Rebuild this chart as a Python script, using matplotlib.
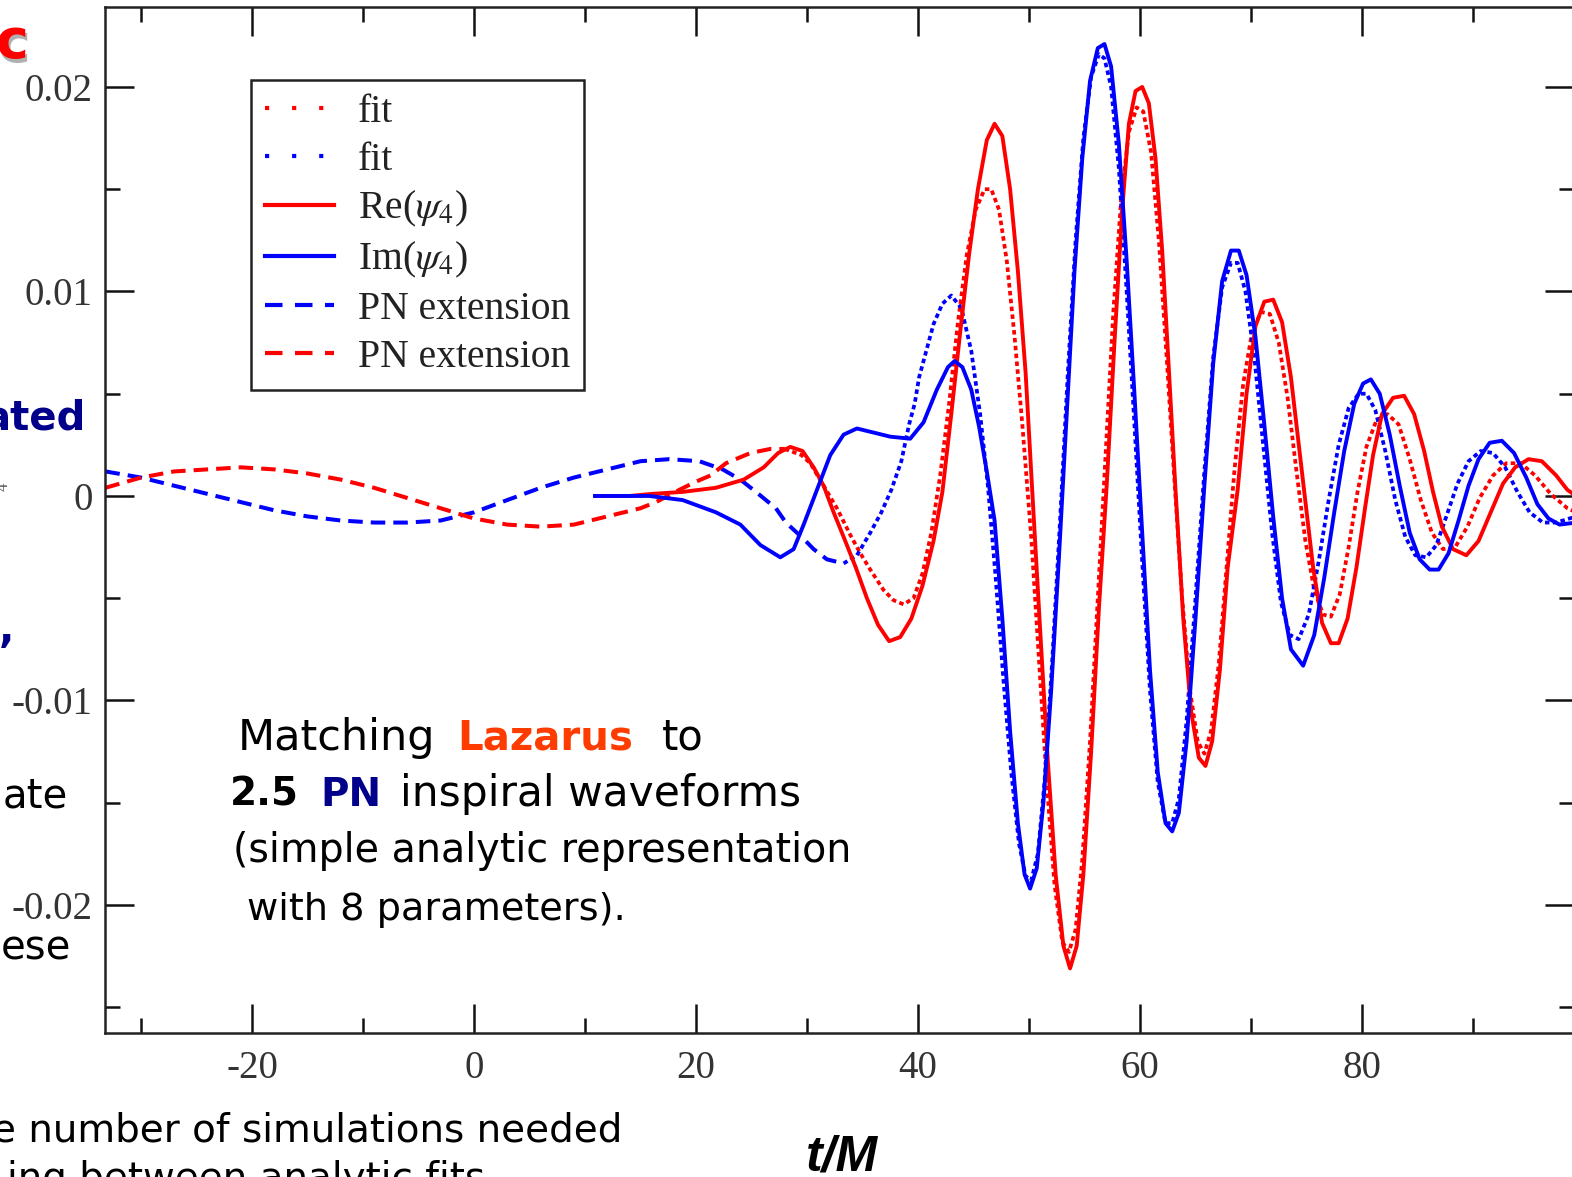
import matplotlib
matplotlib.use('Agg')
import matplotlib.pyplot as plt
from matplotlib.lines import Line2D

plt.rcParams['mathtext.fontset'] = 'stix'
plt.rcParams['axes.unicode_minus'] = False

# ---- data (t/M, psi4) ----
pn_blue_t = [-33.2, -30, -27, -24, -21, -18, -15, -12, -9, -6, -3, 0, 3, 6, 9, 12, 15, 17.6,
             20.3, 22.4, 24.0, 25.4, 27.2, 28.1, 29.7, 30.6, 31.8, 33.3]
pn_blue_y = [0.0012, 0.0009, 0.0005, 0.0001, -0.0003, -0.0007, -0.0010, -0.0012, -0.0013, -0.0013,
             -0.0012, -0.0008, -0.0002, 0.0004, 0.0009, 0.0013, 0.0017, 0.0018,
             0.0017, 0.0013, 0.0008, 0.0002, -0.0006, -0.0013, -0.0021, -0.0026, -0.0031, -0.0033]

pn_red_t = [-33.2, -30, -27, -24, -21, -18, -15, -12, -9, -6, -3, 0, 3, 6, 9, 12, 15, 16.4,
            18.5, 20.0, 21.3, 22.7, 24.9, 26.7, 28.0]
pn_red_y = [0.0004, 0.0009, 0.0012, 0.0013, 0.0014, 0.0013, 0.0011, 0.0008, 0.0004, -0.0001,
            -0.0006, -0.0011, -0.0014, -0.0015, -0.0014, -0.0010, -0.0006, -0.0003,
            0.0003, 0.0007, 0.0010, 0.0016, 0.0021, 0.0023, 0.0023]

re_t = [11, 14, 16, 18.8, 21.8, 24.3, 26.1, 27.4, 28.5, 29.6, 30.6, 31.5, 32.4, 33.3, 34.4, 35.4,
        36.4, 37.4, 38.4, 39.4, 40.4, 41.4, 42.2, 43.0, 43.8, 44.6, 45.4, 46.2, 46.9, 47.6, 48.3,
        49.0, 49.7, 50.3, 51.0, 51.7, 52.4, 53.1, 53.7, 54.3, 54.9, 55.6, 56.3, 57.0, 57.7, 58.4,
        59.0, 59.6, 60.2, 60.8, 61.4, 62.0, 62.6, 63.2, 63.9, 64.6, 65.3, 65.9, 66.5, 67.2, 67.9,
        68.8, 69.6, 70.4, 71.2, 72.0, 72.8, 73.6, 74.2, 74.8, 75.6, 76.4, 77.2, 77.9, 78.7, 79.5,
        80.3, 81.0, 81.8, 82.8, 83.8, 84.7, 85.6, 86.4, 87.2, 88.2, 89.4, 90.5, 91.6, 92.7, 93.8,
        95.0, 96.2, 97.5, 98.5, 99.3]
re_y = [0.0, 0.0, 0.0001, 0.0002, 0.0004, 0.0008, 0.0014, 0.0021, 0.0024, 0.0022, 0.0014, 0.0005,
        -0.0008, -0.0020, -0.0035, -0.0050, -0.0063, -0.0071, -0.0069, -0.0060, -0.0044, -0.0022,
        0.0002, 0.0040, 0.0080, 0.0118, 0.0150, 0.0174, 0.0182, 0.0176, 0.0150, 0.0110, 0.0060,
        0.0002, -0.0065, -0.0130, -0.0185, -0.0220, -0.0231, -0.0220, -0.0185, -0.0125, -0.0055,
        0.0005, 0.0075, 0.0140, 0.0182, 0.0198, 0.0200, 0.0192, 0.0165, 0.0120, 0.0062, 0.0003,
        -0.0060, -0.0105, -0.0128, -0.0132, -0.0120, -0.0085, -0.0035, 0.0003, 0.0050, 0.0083,
        0.0095, 0.0096, 0.0085, 0.0058, 0.0030, 0.0002, -0.0035, -0.0062, -0.0072, -0.0072,
        -0.0060, -0.0035, -0.0005, 0.0020, 0.0040, 0.0048, 0.0049, 0.0040, 0.0022, 0.0002,
        -0.0015, -0.0026, -0.0029, -0.0022, -0.0008, 0.0006, 0.0014, 0.0018, 0.0017, 0.0010,
        0.0003, 0.0]

re_fit_t = [28.0, 29.5, 30.3, 31.5, 32.7, 33.9, 34.8, 35.7, 36.9, 37.8, 38.7, 39.6, 40.4, 41.2,
            42.0, 42.8, 43.6, 44.4, 45.2, 46.0, 46.6, 47.3, 48.0, 48.7, 49.4, 50.2, 50.9, 51.6,
            52.3, 53.0, 53.6, 54.2, 54.8, 55.5, 56.2, 56.9, 57.6, 58.3, 59.0, 59.7, 60.3, 61.0,
            61.7, 62.4, 63.1, 63.8, 64.5, 65.2, 65.8, 66.4, 67.1, 67.8, 68.5, 69.3, 70.1, 70.9,
            71.7, 72.5, 73.3, 74.1, 74.9, 75.7, 76.5, 77.2, 78.0, 78.8, 79.6, 80.4, 81.3, 82.3,
            83.3, 84.3, 85.3, 86.3, 87.3, 88.4, 89.5, 90.6, 91.8, 93.0, 94.3, 95.6, 97.0, 98.5, 99.3]
re_fit_y = [0.0023, 0.0020, 0.0016, 0.0005, -0.0006, -0.0019, -0.0028, -0.0036, -0.0046, -0.0051,
            -0.0053, -0.0050, -0.0038, -0.0018, 0.0010, 0.0045, 0.0085, 0.0118, 0.0140, 0.0150,
            0.0150, 0.0140, 0.0115, 0.0078, 0.0035, -0.0020, -0.0080, -0.0140, -0.0190, -0.0218,
            -0.0223, -0.0212, -0.0178, -0.0120, -0.0050, 0.0020, 0.0090, 0.0145, 0.0178, 0.0190,
            0.0188, 0.0168, 0.0125, 0.0068, 0.0008, -0.0050, -0.0095, -0.0120, -0.0126, -0.0115,
            -0.0082, -0.0035, 0.0012, 0.0055, 0.0080, 0.0090, 0.0089, 0.0075, 0.0048, 0.0012,
            -0.0022, -0.0046, -0.0058, -0.0059, -0.0048, -0.0025, 0.0002, 0.0024, 0.0037, 0.0040,
            0.0035, 0.0018, -0.0002, -0.0018, -0.0026, -0.0025, -0.0015, -0.0001, 0.0010, 0.0016,
            0.0016, 0.0010, 0.0001, -0.0006, -0.0008]

im_t = [10.9, 15.8, 18.8, 21.8, 24.0, 25.8, 27.6, 28.8, 29.7, 30.9, 32.1, 33.3, 34.5, 36.0, 37.5,
        39.3, 40.5, 41.7, 42.7, 43.3, 44.0, 44.8, 45.5, 46.2, 46.9, 47.6, 48.3, 49.0, 49.6, 50.1,
        50.7, 51.3, 52.0, 52.7, 53.4, 54.1, 54.8, 55.5, 56.2, 56.8, 57.4, 58.1, 58.8, 59.5, 60.2,
        60.9, 61.6, 62.3, 62.9, 63.5, 64.2, 65.0, 65.8, 66.6, 67.4, 68.2, 68.9, 69.6, 70.4, 71.2,
        72.0, 72.8, 73.6, 74.7, 75.7, 76.6, 77.5, 78.4, 79.3, 80.1, 80.8, 81.6, 82.5, 83.4, 84.3,
        85.2, 86.1, 86.9, 87.8, 88.7, 89.6, 90.5, 91.5, 92.6, 93.7, 94.8, 95.8, 96.8, 97.8, 99.3]
im_y = [0.0, 0.0, -0.0002, -0.0008, -0.0014, -0.0024, -0.0030, -0.0026, -0.0014, 0.0003, 0.0020,
        0.0030, 0.0033, 0.0031, 0.0029, 0.0028, 0.0036, 0.0052, 0.0063, 0.0066, 0.0063, 0.0052,
        0.0034, 0.0012, -0.0012, -0.0060, -0.0115, -0.0160, -0.0185, -0.0192, -0.0182, -0.0150,
        -0.0095, -0.0030, 0.0040, 0.0110, 0.0165, 0.0203, 0.0219, 0.0221, 0.0210, 0.0172, 0.0115,
        0.0050, -0.0018, -0.0085, -0.0135, -0.0160, -0.0164, -0.0155, -0.0120, -0.0060, 0.0005,
        0.0065, 0.0105, 0.0120, 0.0120, 0.0108, 0.0078, 0.0035, -0.0010, -0.0050, -0.0075,
        -0.0083, -0.0068, -0.0040, -0.0008, 0.0022, 0.0045, 0.0055, 0.0057, 0.0050, 0.0030,
        0.0005, -0.0018, -0.0031, -0.0036, -0.0036, -0.0028, -0.0012, 0.0005, 0.0018, 0.0026,
        0.0027, 0.0021, 0.0009, -0.0004, -0.0011, -0.0014, -0.0013]

im_fit_t = [33.3, 34.5, 35.7, 36.7, 37.6, 38.5, 39.2, 39.7, 40.1, 40.8, 41.4, 42.2, 43.0, 43.9,
            44.8, 45.6, 46.3, 47.0, 47.7, 48.4, 49.1, 49.7, 50.2, 50.8, 51.4, 52.1, 52.8, 53.5,
            54.2, 54.9, 55.6, 56.3, 56.8, 57.4, 58.1, 58.8, 59.5, 60.2, 60.9, 61.6, 62.3, 62.9,
            63.5, 64.2, 65.0, 65.8, 66.6, 67.4, 68.2, 68.8, 69.5, 70.3, 71.1, 71.9, 72.7, 73.5,
            74.3, 75.2, 76.1, 77.0, 77.9, 78.8, 79.7, 80.4, 81.2, 82.1, 83.0, 83.9, 84.8, 85.8,
            86.7, 87.6, 88.6, 89.6, 90.7, 91.8, 92.9, 94.0, 95.1, 96.3, 97.5, 99.3]
im_fit_y = [-0.0033, -0.0029, -0.0018, -0.0008, 0.0003, 0.0017, 0.0035, 0.0045, 0.0058, 0.0072,
            0.0084, 0.0094, 0.0098, 0.0092, 0.0071, 0.0040, 0.0005, -0.0040, -0.0090, -0.0135,
            -0.0170, -0.0186, -0.0188, -0.0175, -0.0140, -0.0080, -0.0012, 0.0060, 0.0125, 0.0175,
            0.0205, 0.0216, 0.0214, 0.0200, 0.0160, 0.0100, 0.0035, -0.0032, -0.0095, -0.0140,
            -0.0160, -0.0160, -0.0148, -0.0110, -0.0050, 0.0012, 0.0068, 0.0102, 0.0114, 0.0114,
            0.0100, 0.0068, 0.0025, -0.0018, -0.0052, -0.0068, -0.0070, -0.0058, -0.0032, -0.0002,
            0.0025, 0.0043, 0.0050, 0.0050, 0.0042, 0.0022, -0.0002, -0.0020, -0.0029, -0.0030,
            -0.0024, -0.0010, 0.0006, 0.0017, 0.0022, 0.0021, 0.0014, 0.0002, -0.0008, -0.0013,
            -0.0013, -0.0010]

W, H = 1572, 1177
RED, BLUE = '#ff0000', '#0000ff'
NAVY = '#00008b'

fig = plt.figure(figsize=(W / 100, H / 100), dpi=100)
ax = fig.add_axes([105 / W, 1 - 1033 / H, (1574 - 105) / W, (1033 - 7) / H])

dash = (0, (3.6, 2.0))
dots = (0, (1.2, 0.9))
ax.plot(pn_blue_t, pn_blue_y, color=BLUE, lw=2.9, ls=dash)
ax.plot(pn_red_t, pn_red_y, color=RED, lw=2.9, ls=dash)
ax.plot(re_fit_t, re_fit_y, color=RED, lw=2.7, ls=dots)
ax.plot(im_fit_t, im_fit_y, color=BLUE, lw=2.7, ls=dots)
ax.plot(re_t, re_y, color=RED, lw=2.8)
ax.plot(im_t, im_y, color=BLUE, lw=2.8)

ax.set_xlim(-33.24, 99.1)
ax.set_ylim(-0.02626, 0.02391)
ax.set_xticks([-20, 0, 20, 40, 60, 80])
ax.set_xticks([-30, -10, 10, 30, 50, 70, 90], minor=True)
ax.set_yticks([-0.02, -0.01, 0, 0.01, 0.02])
ax.set_yticklabels(['-0.02', '-0.01', '0', '0.01', '0.02'])
ax.set_yticks([-0.025, -0.015, -0.005, 0.005, 0.015], minor=True)
ax.tick_params(which='both', direction='in', top=True, right=True, width=1.8, color='#111')
ax.tick_params(which='major', length=21)
ax.tick_params(which='minor', length=11)
ax.tick_params(axis='y', pad=9)
ax.tick_params(axis='x', pad=12)
for lab in ax.get_xticklabels() + ax.get_yticklabels():
    lab.set_fontfamily('Liberation Serif')
    lab.set_fontsize(28)
    lab.set_color('#333333')
for s in ax.spines.values():
    s.set_linewidth(1.8)
    s.set_color('#222222')

handles = [
    Line2D([], [], color=RED, lw=3, ls=(0, (1, 5.5))),
    Line2D([], [], color=BLUE, lw=3, ls=(0, (1, 5.5))),
    Line2D([], [], color=RED, lw=3),
    Line2D([], [], color=BLUE, lw=3),
    Line2D([], [], color=BLUE, lw=3, ls=(0, (4.2, 3))),
    Line2D([], [], color=RED, lw=3, ls=(0, (4.2, 3))),
]
labels = ['fit', 'fit', r'Re($\psi_4$)', r'Im($\psi_4$)', 'PN extension', 'PN extension']
leg = fig.legend(handles, labels, loc='upper left', bbox_to_anchor=(251 / W, 1 - 80 / H),
                 bbox_transform=fig.transFigure, borderaxespad=0, fancybox=False,
                 framealpha=1, edgecolor='#222222', handlelength=1.75, handletextpad=0.6,
                 labelspacing=0.27, borderpad=0.35,
                 prop={'family': 'Liberation Serif', 'size': 28.5})
leg.get_frame().set_linewidth(1.8)
for t in leg.get_texts():
    t.set_color('#222222')


def ftext(x, y, s, **kw):
    # position given in picture pixels
    fig.text(x / W, 1 - y / H, s, **kw)


sans = 'DejaVu Sans'
# annotation inside the plot
ftext(238, 750, 'Matching', fontsize=31, family=sans)
ftext(457, 750, 'Lazarus', fontsize=29, family=sans, color='#ff3c00', weight='bold')
ftext(662, 750, 'to', fontsize=30, family=sans)
ftext(230, 806, '2.5', fontsize=28, family=sans, weight='bold')
ftext(320, 806, 'PN', fontsize=28, family=sans, weight='bold', color=NAVY)
ftext(400, 806, 'inspiral waveforms', fontsize=30.5, family=sans)
ftext(233, 862, '(simple analytic representation', fontsize=28.5, family=sans)
ftext(247, 920, 'with 8 parameters).', fontsize=27.5, family=sans)

# pieces of the surrounding slide
ftext(31, 62, 'c', fontsize=40, family=sans, weight='bold', color='#b0b0b0', ha='right')
ftext(28, 58, 'c', fontsize=40, family=sans, weight='bold', color=RED, ha='right')
ftext(86, 430, 'ated', fontsize=29, family=sans, weight='bold', color=NAVY, ha='right')
ftext(12, 487, '4', fontsize=12, family='Liberation Serif', color='#555555', ha='right',
      va='center', rotation=90)
ftext(14, 642, ',', fontsize=29, family=sans, weight='bold', color=NAVY, ha='right')
ftext(68, 808, 'ate', fontsize=29, family=sans, ha='right')
ftext(71, 960, 'ese', fontsize=29, family=sans, ha='right')
ftext(622, 1142, 'e number of simulations needed', fontsize=28, family=sans, ha='right')
ftext(485, 1160, 'ing between analytic fits', fontsize=28, family=sans, ha='right', va='top')
ftext(842, 1170, 't/M', fontsize=36, family='Liberation Sans', weight='bold', style='italic',
      ha='center')

fig.savefig('out.png', dpi=100)
